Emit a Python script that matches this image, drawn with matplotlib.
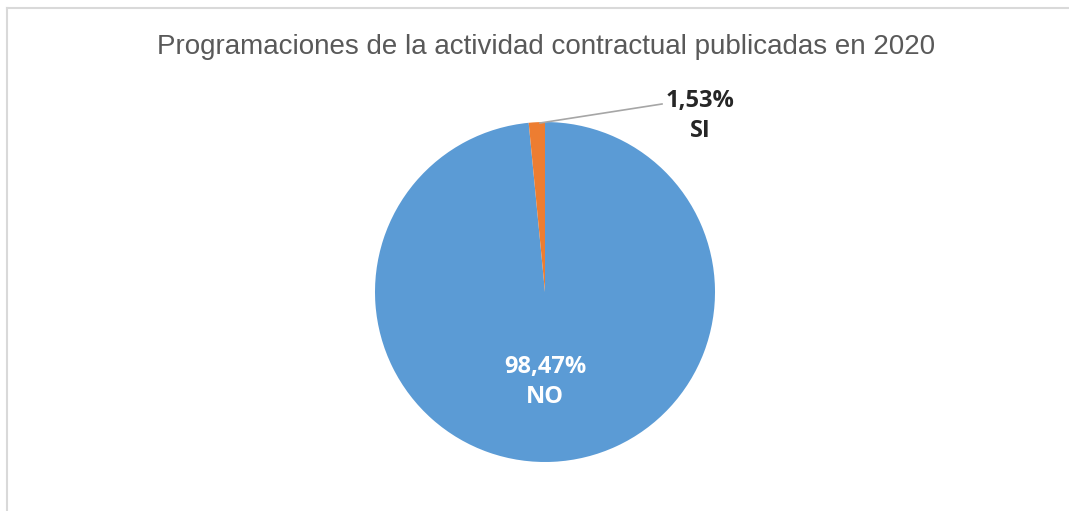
import matplotlib
matplotlib.use("Agg")
import matplotlib.pyplot as plt
from matplotlib.lines import Line2D

title = "Programaciones de la actividad contractual publicadas en 2020"
labels = ["NO", "SI"]
values = [98.47, 1.53]
colors = ["#5B9BD5", "#ED7D31"]

W, H = 1069, 511
fig = plt.figure(figsize=(W / 100, H / 100), dpi=100)
ax = fig.add_axes([0, 0, 1, 1])

# chart frame (only top/left visible in the crop)
fig.add_artist(Line2D([7 / W, 1], [1 - 8 / H, 1 - 8 / H], color="#D9D9D9", lw=1.5))
fig.add_artist(Line2D([7 / W, 7 / W], [0, 1 - 8 / H], color="#D9D9D9", lw=1.5))

# pixel coordinates measured from top, converted to y-up
cx, cy, r = 545, H - 292, 170
ax.pie(values, colors=colors, startangle=90, counterclock=False,
       center=(cx, cy), radius=r, frame=True, wedgeprops=dict(linewidth=0))
ax.set_xlim(0, W)
ax.set_ylim(0, H)
ax.set_aspect("equal")
ax.axis("off")


def lab(i):
    return f"{values[i]:.2f}%".replace(".", ",") + "\n" + labels[i]


font = dict(family="Open Sans", fontweight="bold", fontsize=17, ha="center",
            va="center", linespacing=1.35)
ax.text(545, H - 382, lab(0), color="white", **font)
ax.text(700, H - 116, lab(1), color="#262626", **font)
ax.plot([540, 662], [H - 123, H - 104], color="#A6A6A6", lw=1.2)

ax.text(546, H - 47, title, ha="center", va="center", fontsize=20,
        family="Liberation Sans", color="#595959")

fig.savefig("out.png", dpi=100)
